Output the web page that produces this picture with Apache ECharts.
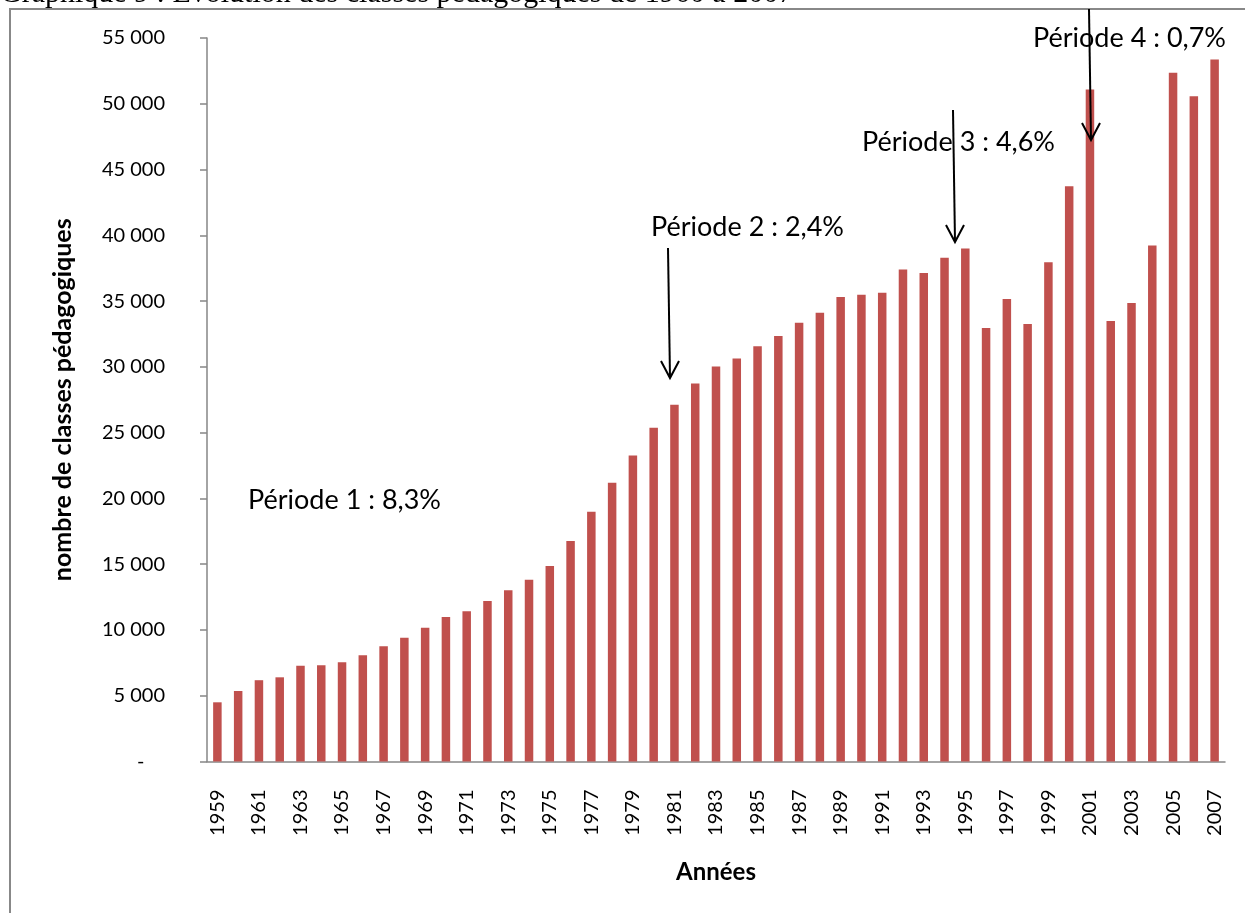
<!DOCTYPE html>
<html><head><meta charset="utf-8">
<script src="https://cdn.jsdelivr.net/npm/echarts@6/dist/echarts.min.js"></script>
<style>html,body{margin:0;padding:0;background:#fff}#c{width:1245px;height:913px}</style>
</head><body><div id="c"></div>
<script>
const years = ['1959','1960','1961','1962','1963','1964','1965','1966','1967','1968','1969','1970','1971','1972','1973','1974','1975','1976','1977','1978','1979','1980','1981','1982','1983','1984','1985','1986','1987','1988','1989','1990','1991','1992','1993','1994','1995','1996','1997','1998','1999','2000','2001','2002','2003','2004','2005','2006','2007'];
const classes = [4500,5360,6180,6400,7270,7320,7550,8080,8760,9400,10160,10990,11430,12210,13020,13810,14870,16770,18980,21190,23260,25370,27120,28740,30030,30640,31560,32350,33360,34120,35310,35490,35640,37410,37140,38300,38990,32960,35160,33250,37950,43730,51080,33490,34860,39220,52360,50580,53370];
const titleText = 'Graphique 9 : Evolution des classes pédagogiques de 1960 à 2007';
const yName = 'nombre de classes pédagogiques';
const xName = 'Années';
const periodLabels = ['Période 1 : 8,3%','Période 2 : 2,4%','Période 3 : 4,6%','Période 4 : 0,7%'];

const FONT = 'Lato';
const chart = echarts.init(document.getElementById('c'), null, {renderer:'canvas'});
function fmt(v){ return v === 0 ? '-    ' : String(v).replace(/\B(?=(\d{3})+(?!\d))/g, ' '); }
function arrow(x1,y1,x2,y2){
  return [
    {type:'line', z:100, shape:{x1:x1,y1:y1,x2:x2,y2:y2}, style:{stroke:'#000',lineWidth:2}},
    {type:'polyline', z:100, shape:{points:[[x2-9,y2-17],[x2,y2],[x2+9,y2-17]]}, style:{stroke:'#000',lineWidth:2,fill:null}}
  ];
}
const option = {
  animation:false,
  backgroundColor:'#fff',
  grid:{left:207, right:20, top:38, bottom:151.5, containLabel:false},
  xAxis:{
    type:'category', data:years,
    axisLine:{lineStyle:{color:'#868686', width:1.5}},
    axisTick:{show:false},
    axisLabel:{rotate:90, interval:1, margin:28, color:'#000', fontFamily:FONT, fontSize:20},
    name:xName, nameLocation:'middle', nameGap:99,
    nameTextStyle:{fontFamily:FONT, fontWeight:'bold', fontSize:24, color:'#000'}
  },
  yAxis:{
    type:'value', min:0, max:55000, interval:5000,
    axisLine:{show:true, lineStyle:{color:'#868686', width:1.5}},
    axisTick:{show:true, length:7, lineStyle:{color:'#868686', width:1.5}},
    splitLine:{show:false},
    axisLabel:{margin:42, color:'#000', fontFamily:FONT, fontSize:20, formatter:fmt},
    name:yName, nameLocation:'middle', nameGap:132, nameRotate:90,
    nameTextStyle:{fontFamily:FONT, fontWeight:'bold', fontSize:25, color:'#000'}
  },
  series:[{type:'bar', data:classes, barWidth:8.5, itemStyle:{color:'#C0504D'}}],
  graphic:[
    {type:'rect', z:-1, shape:{x:10,y:9,width:1400,height:1100}, style:{fill:null, stroke:'#888', lineWidth:2}},
    {type:'text', x:0, y:9, style:{text:titleText, font:'30px "Liberation Serif"', fill:'#000', verticalAlign:'bottom'}},
    {type:'text', x:248, y:500, style:{text:periodLabels[0], font:'27px Lato', fill:'#000', verticalAlign:'middle'}},
    {type:'text', x:651, y:227, style:{text:periodLabels[1], font:'27px Lato', fill:'#000', verticalAlign:'middle'}},
    {type:'text', x:862, y:142, style:{text:periodLabels[2], font:'27px Lato', fill:'#000', verticalAlign:'middle'}},
    {type:'text', x:1033, y:38, style:{text:periodLabels[3], font:'27px Lato', fill:'#000', verticalAlign:'middle'}},
    ...arrow(668,248,670,378),
    ...arrow(953,110,955,242),
    ...arrow(1089,9,1091,140)
  ]
};
chart.setOption(option);
</script></body></html>
